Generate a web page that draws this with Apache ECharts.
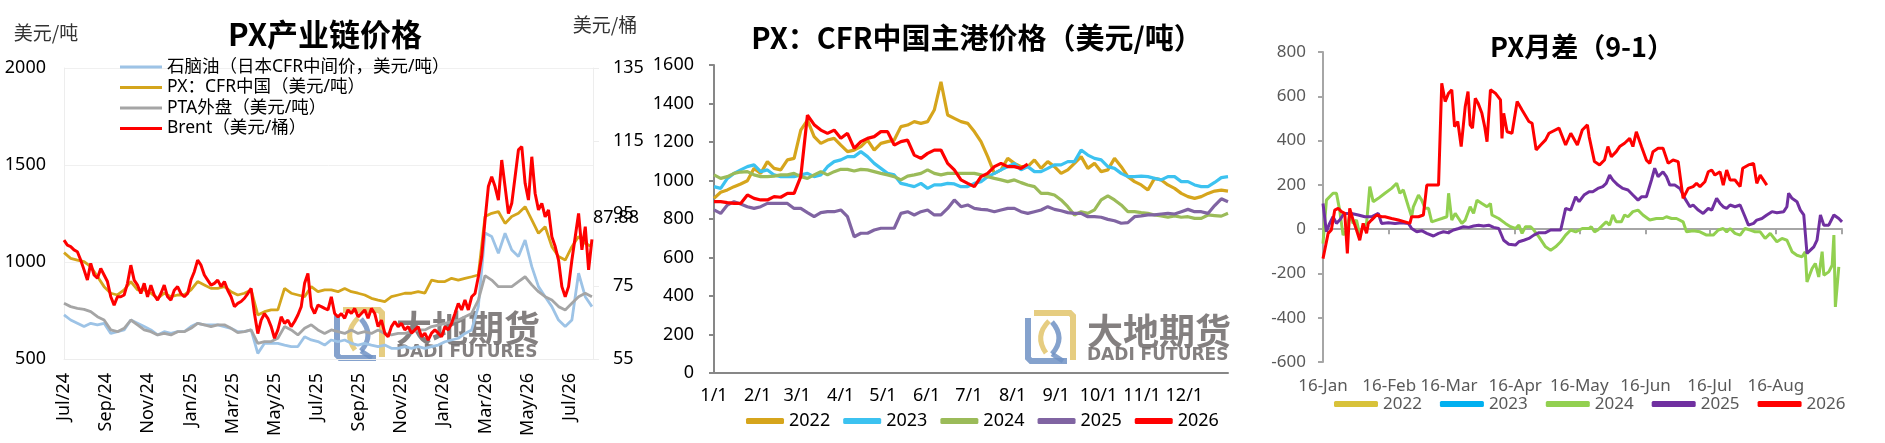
<!DOCTYPE html>
<html><head><meta charset="utf-8">
<script src="https://cdn.jsdelivr.net/npm/echarts@6/dist/echarts.min.js"></script>
<style>html,body{margin:0;padding:0;background:#fff}#c{width:1885px;height:443px}</style>
</head><body><div id="c"></div>
<script>
// ================= LEFT: PX产业链价格 =================
// samples are evenly spaced in time from LEFT_FIRST_MONTH to LEFT_LAST_MONTH (months after Jul-2024)
const LEFT_FIRST_MONTH = 0;
const LEFT_LAST_MONTH = 25.05;
const LEFT_MONTH_NAMES = ['Jan','Feb','Mar','Apr','May','Jun','Jul','Aug','Sep','Oct','Nov','Dec'];
const LEFT_START_MONTH_INDEX = 6;  // July
const LEFT_START_YEAR = 24;

const naphtha = [727,701,684,667,684,676,684,632,641,650,701,684,667,650,624,641,632,641,641,667,684,676,676,676,667,658,641,641,650,529,581,581,581,572,564,564,615,598,590,572,
598,589,598,581,572,581,572,564,572,555,555,564,555,564,555,564,572,589,598,607,632,650,770,1150,1131,1045,1148,1062,1028,1113,976,873,821,770,701,667,701,942,821,770];
const pxCfrChina = [1048,1019,1010,1002,976,925,873,839,830,856,899,856,856,839,813,839,821,830,830,856,899,882,864,864,873,847,830,839,856,727,744,753,753,864,839,830,821,873,847,856,
856,847,864,847,839,830,813,804,796,821,830,839,839,847,839,907,899,899,916,907,916,924,933,1234,1251,1260,1199,1234,1251,1285,1217,1148,1182,1079,1028,1010,1079,1131,1096,1079];
const ptaExport = [787,770,761,756,744,718,701,650,641,658,701,676,650,641,624,632,624,641,641,658,684,676,667,676,676,658,636,641,650,581,590,590,607,667,650,624,658,676,650,632,
650,641,632,650,632,641,632,650,632,624,632,632,641,650,650,667,675,684,693,701,718,735,804,930,907,873,873,873,899,924,882,847,821,804,770,753,787,821,839,821];
const brent = [87.7,86.3,85.9,85.0,84.5,82.2,79.5,76.7,81.3,78.1,77.2,79.9,78.1,76.3,72.1,69.8,72.1,72.1,72.6,75.8,
80.8,76.7,75.3,73.0,75.8,72.1,75.3,72.6,71.2,73.0,75.3,72.1,71.2,73.9,74.9,73.0,72.1,73.0,76.7,79.0,
82.2,80.8,78.1,76.7,75.3,75.8,76.7,74.9,76.3,73.9,72.1,69.4,70.3,70.8,71.7,73.0,74.4,67.5,62.0,65.7,
67.5,66.2,63.9,60.7,63.0,66.6,64.8,65.7,63.9,65.3,67.1,69.4,75.8,78.5,69.4,67.5,69.8,69.4,68.9,68.5,
72.1,67.5,66.6,67.5,66.2,68.5,67.5,68.9,66.6,67.5,68.5,66.2,68.9,67.5,63.9,65.7,62.1,61.1,63.9,65.3,
63.9,64.8,63.0,63.9,62.1,63.0,63.9,61.1,62.1,60.2,62.1,63.0,62.1,61.1,63.9,63.0,64.8,67.5,70.3,68.5,
71.2,68.5,72.1,73.0,77.6,83.1,93.2,102.4,105.1,102.4,98.7,109.7,102.4,95.0,97.8,105.1,112.5,113.4,103.3,98.7,
110.6,100.5,96.0,97.8,94.1,96.0,88.6,85.9,82.2,74.9,72.1,74.9,82.2,88.6,95.0,85.0,91.4,79.5,87.88];

// ================= MID: PX CFR 中国主港价格 =================
const MID_SAMPLE_COUNT = 78;      // samples evenly spread over the calendar year
const MID_YEAR_DAYS = 365;
const MID_MONTH_START_DAYS = [0,31,59,90,120,151,181,212,243,273,304,334];
const MID_MONTH_LABELS = ['1/1','2/1','3/1','4/1','5/1','6/1','7/1','8/1','9/1','10/1','11/1','12/1'];
const px2022 = [907,939,951,968,982,999,1063,1037,1098,1063,1055,1107,1115,1262,1314,1228,1193,1210,1219,1184,1150,1158,1176,1210,1158,1193,1202,1210,1280,1288,1306,1297,1306,1366,1513,1340,1323,
1306,1297,1254,1202,1124,1037,1055,1115,1089,1072,1072,1107,1063,1098,1072,1037,1055,1089,1124,1063,1089,1046,1055,1115,1072,1020,994,977,951,1011,1003,977,959,933,916,907,916,933,945,950,945];
const px2023 = [968,959,1011,1037,1055,1072,1081,1046,1055,1029,1020,1020,1020,1029,1037,1020,1029,1072,1098,1107,1124,1124,1150,1124,1089,1063,1037,1029,985,977,968,985,959,977,977,985,982,
968,968,985,994,1020,1037,1055,1072,1089,1055,1072,1046,1046,1063,1081,1081,1098,1098,1158,1132,1115,1107,1072,1063,1037,1020,1020,1023,1020,1011,1003,1020,1020,994,994,977,968,968,990,1015,1020];
const px2024 = [1029,1011,1020,1037,1044,1046,1029,1020,1020,1023,1029,1029,1037,1020,1011,1029,1046,1029,1046,1058,1058,1049,1058,1055,1046,1037,1029,1020,1003,1023,1029,1037,1055,1037,1029,1037,1037,
1037,1037,1037,1029,1020,1011,1003,994,1003,989,977,968,933,933,925,899,864,821,838,829,847,899,920,899,873,838,838,833,829,821,816,809,816,809,812,803,803,821,818,815,830];
const px2025 = [847,829,873,890,878,864,855,864,881,881,881,881,855,855,833,812,833,838,838,847,812,708,726,726,743,752,752,752,829,838,821,838,847,821,821,855,899,
864,873,855,850,847,838,847,855,855,838,829,838,847,864,850,843,833,829,829,812,812,809,798,791,778,781,812,816,821,821,826,829,826,838,850,838,838,829,870,905,890];
const px2026 = [890,890,885,881,881,925,907,899,899,916,913,933,933,1020,1340,1290,1262,1245,1262,1219,1245,1167,1202,1219,1228,1254,1254,1184,1202,1210,1132,1115,1141,1158,1158,1089,1055,
1003,985,968,1020,1037,1072,1089,1072,1072,1063,1085];

// ================= RIGHT: PX月差（9-1） =================
// x = days after 16-Jan
const SPREAD_TICK_DAYS = [0,31,59,90,120,151,181,212,243];
const SPREAD_TICK_LABELS = ['16-Jan','16-Feb','16-Mar','16-Apr','16-May','16-Jun','16-Jul','16-Aug'];
const spread2022Days = [], spread2022 = [];
const spread2023Days = [], spread2023 = [];
const spread2024Days = [0,1.6,3.1,4.7,6.3,7.8,9.4,11.0,12.5,14.1,15.7,17.2,18.8,20.4,21.9,23.5,25.9,29.0,32.1,34.5,
36.0,37.6,40.0,41.5,42.3,44.7,46.2,47.8,49.4,50.9,53.3,55.6,58.0,58.8,60.3,61.9,63.5,65.0,66.6,68.9,
70.5,72.1,74.4,76.8,78.4,79.1,82.3,85.4,87.8,90.1,91.7,93.2,94.8,97.2,98.7,101.1,104.2,106.6,108.9,111.3,
113.6,116.0,118.3,121.4,124.6,125.6,127.1,128.7,131.0,132.6,134.2,135.7,137.3,139.7,141.2,
142.8,145.1,147.5,149.8,153.0,156.1,159.2,160.8,163.2,165.5,168.6,170.2,173.3,176.5,179.6,182.7,185.1,187.4,189.0,190.6,
192.9,195.3,197.6,200.0,202.3,204.7,207.0,209.4,212.5,214.9,217.2,219.6,221.9,224.3,225.8,226.6,229.0,230.5,232.1,233.7,
234.5,236.8,238.4,239.2,239.9,241.5];
const spread2024 = [-65,131,146,162,162,86,-27,-4,64,26,41,-27,11,26,192,124,139,162,184,207,
162,177,101,56,101,154,131,94,94,33,41,48,56,162,41,71,48,26,41,101,
71,131,116,101,116,64,48,26,11,3,18,-19,11,11,-4,-35,-80,-95,-80,-57,
-27,-4,-12,3,3,11,-12,-4,18,33,18,64,33,33,64,
56,79,86,64,41,48,48,56,48,48,33,-12,-7,-12,-27,-27,-4,3,-12,3,
-19,-27,3,-4,-12,-12,-42,-19,-57,-42,-50,-102,-118,-125,-102,-238,-178,-155,-216,-102,
-208,-193,-163,-27,-351,-170];
const spread2025Days = [0,1.6,3.1,4.7,6.3,7.8,9.4,11.0,13.3,16.5,19.6,22.7,25.9,27.4,30.6,33.7,36.8,40.0,41.5,43.9,
46.2,48.6,51.7,54.1,56.4,58.8,61.1,63.5,65.8,68.2,70.5,72.9,75.2,77.6,79.9,82.3,84.6,87.0,90.1,91.7,
94.0,96.4,98.7,101.1,104.2,106.6,108.9,111.3,113.6,116.0,118.3,119.9,122.2,124.6,
126.3,128.7,131.0,132.6,134.2,135.7,138.1,140.4,142.8,145.1,147.5,149.1,151.4,153.8,155.3,156.9,159.2,160.8,162.4,164.7,
167.1,169.4,171.8,173.3,175.7,178.0,180.4,182.0,184.3,185.9,187.4,189.0,190.6,192.9,195.3,197.6,199.2,201.6,203.1,205.5,
207.8,210.2,212.5,215.7,217.2,218.0,219.6,221.9,223.5,225.1,226.6,228.2,229.8,231.3,232.9,234.5,236.8,239.2,241.5,243];
const spread2025 = [116,-12,26,56,26,41,64,71,71,64,56,56,71,26,29,26,29,26,3,-12,
-7,-19,-31,-19,-12,-16,-4,3,11,8,14,18,14,18,8,3,-50,-68,-72,-57,
-50,-42,-27,-16,-16,-4,-4,-4,94,86,146,124,154,169,
169,184,192,207,244,222,199,184,177,154,131,146,146,222,275,237,259,237,199,199,
184,139,101,109,86,71,94,86,139,116,101,94,109,101,109,56,18,26,41,48,
64,79,74,79,101,162,139,124,86,64,-110,-95,-80,-50,64,18,18,64,48,33];
const spread2026Days = [0,0.8,2.4,3.9,5.5,7.1,8.6,10.2,11.4,12.5,14.1,15.7,17.2,18.8,20.4,21.2,22.7,25.1,27.4,29.0,
32.1,35.3,38.4,40.7,41.5,44.7,47.0,48.6,50.9,54.1,55.6,57.2,58.8,60.3,61.6,63.1,64.7,66.6,67.9,68.9,
70.0,71.3,72.6,74.4,75.7,76.8,78.4,80.7,83.1,83.8,84.6,86.2,88.5,90.9,93.2,96.4,97.9,99.8,101.9,104.2,
105.8,110.5,113.6,116.0,119.1,121.4,123.8,124.6,127.1,129.5,131.8,133.4,135.0,137.3,138.9,141.2,143.6,145.1,
146.7,149.1,151.4,153.0,154.5,156.9,159.2,161.6,163.9,166.3,168.6,171.0,173.3,174.9,176.5,178.8,180.4,182.0,183.5,185.9,
187.4,189.0,190.6,192.9,195.3,196.5,199.2,201.6,203.1,204.7,207.8];
const spread2026 = [-133,-95,-19,-4,86,94,79,71,-110,94,41,-4,-50,26,-19,26,41,64,56,56,
48,41,33,26,56,56,64,199,199,199,659,576,614,629,463,486,373,554,621,471,
456,591,569,523,463,395,629,614,584,410,523,440,433,576,538,486,478,358,380,403,
433,456,380,433,380,448,471,418,305,290,312,373,327,350,373,388,410,373,
440,373,312,297,350,365,365,297,312,305,139,184,192,207,192,214,259,267,244,259,
199,267,222,222,192,275,290,297,207,244,199];

// ================= helpers =================
const FONT = "'Noto Sans', 'Noto Sans CJK SC', sans-serif";
const CJK = "'Noto Sans CJK SC', 'Noto Sans', sans-serif";
const evenSpread = (vals, a, b, n) => vals.map((v, i) => [a + i * (b - a) / (n - 1), v]);
const zip = (xs, ys) => xs.map((x, i) => [x, ys[i]]);
const leftSeries = vals => evenSpread(vals, LEFT_FIRST_MONTH, LEFT_LAST_MONTH, vals.length);
const midSeries = vals => evenSpread(vals, 0, MID_YEAR_DAYS, MID_SAMPLE_COUNT);
const plain = v => String(v);

const MID_COLORS = ['#D6A51C', '#3CC2F0', '#9BBB59', '#8064A2', '#FF0000'];
const SPREAD_COLORS = ['#D8C23A', '#00B0F0', '#92D050', '#7030A0', '#FF0000'];
const YEARS = ['2022','2023','2024','2025','2026'];
const midData = [px2022, px2023, px2024, px2025, px2026];
const spreadData = [zip(spread2022Days, spread2022), zip(spread2023Days, spread2023), zip(spread2024Days, spread2024), zip(spread2025Days, spread2025), zip(spread2026Days, spread2026)];

function watermark(x, y) {
  const gold = { fill: null, stroke: '#E2C46B', lineWidth: 6, opacity: 0.85 };
  const blue = { fill: null, stroke: '#7092C4', lineWidth: 6, opacity: 0.85 };
  return {
    type: 'group', x: x, y: y, z: 100, silent: true,
    children: [
      { type: 'polyline', shape: { points: [[9,3],[45,3],[48,6],[48,50]] }, style: gold },
      { type: 'polyline', shape: { points: [[3,8],[3,48],[6,51],[42,51]] }, style: blue },
      { type: 'bezierCurve', shape: { x1: 24, y1: 11, cpx1: 9, cpy1: 26, x2: 21, y2: 43 }, style: Object.assign({}, gold, { lineWidth: 5 }) },
      { type: 'bezierCurve', shape: { x1: 27, y1: 12, cpx1: 41, cpy1: 28, x2: 27, y2: 44 }, style: Object.assign({}, blue, { lineWidth: 5 }) },
      { type: 'line', shape: { x1: 27, y1: 44, x2: 38, y2: 51 }, style: Object.assign({}, blue, { lineWidth: 5 }) },
      { type: 'text', x: 62, y: 21, style: { text: '大地期货', font: "bold 36px 'Noto Sans CJK SC'", fill: '#6E6A6A', opacity: 0.85, textAlign: 'left', textVerticalAlign: 'middle', verticalAlign: 'middle' } },
      { type: 'text', x: 62, y: 46, style: { text: 'DADI FUTURES', font: "bold 17px 'DejaVu Sans'", fill: '#6E6A6A', opacity: 0.85, textAlign: 'left', textVerticalAlign: 'middle', verticalAlign: 'middle' } }
    ]
  };
}
function label(text, x, y, size, bold, color) {
  return { type: 'text', x: x, y: y, z: 50, style: { text: text, font: (bold ? 'bold ' : '') + size + 'px ' + CJK, fill: color || '#000', textAlign: 'center', textVerticalAlign: 'middle', verticalAlign: 'middle' } };
}

const option = {
  animation: false,
  backgroundColor: '#fff',
  textStyle: { fontFamily: FONT },
  graphic: [
    label('PX产业链价格', 325, 34, 31, true),
    label('美元/吨', 46, 33, 19, false, '#333'),
    label('美元/桶', 605, 25, 19, false, '#333'),
    label('PX：CFR中国主港价格（美元/吨）', 977, 38, 29, true),
    label('PX月差（9-1）', 1582, 47, 27, true),
    watermark(334, 307),
    watermark(1025, 310)
  ],
  grid: [
    { left: 64, top: 68, width: 529, height: 291 },
    { left: 714, top: 65, width: 514, height: 308 },
    { left: 1323, top: 52, width: 519, height: 310 }
  ],
  legend: [
    { orient: 'vertical', left: 115, top: 52, itemWidth: 42, itemHeight: 3, itemGap: 0.5, icon: 'rect',
      textStyle: { fontSize: 17.5, color: '#000', fontFamily: FONT, lineHeight: 20 },
      data: ['石脑油（日本CFR中间价，美元/吨）', 'PX：CFR中国（美元/吨）', 'PTA外盘（美元/吨）', 'Brent（美元/桶）'] },
    { orient: 'horizontal', left: 741, top: 406, itemWidth: 38, itemHeight: 6, itemGap: 13, icon: 'roundRect',
      formatter: n => n.slice(1), textStyle: { fontSize: 18, color: '#000', fontFamily: FONT, lineHeight: 20 },
      data: YEARS.map(y => 'm' + y) },
    { orient: 'horizontal', left: 1329, top: 389, itemWidth: 44, itemHeight: 6, itemGap: 18, icon: 'roundRect',
      formatter: n => n.slice(1), textStyle: { fontSize: 17, color: '#595959', fontFamily: FONT, lineHeight: 20 },
      data: YEARS.map(y => 's' + y) }
  ],
  xAxis: [
    { gridIndex: 0, type: 'value', min: 0, max: 25.1, interval: 2,
      axisLine: { show: true, lineStyle: { color: '#EDEDED', width: 1 } }, axisTick: { show: false }, splitLine: { show: false },
      axisLabel: { rotate: 90, margin: 14, fontSize: 18, color: '#000', fontFamily: FONT, showMaxLabel: false,
        formatter: v => { if (Math.abs(v - Math.round(v)) > 1e-6) return ''; const k = LEFT_START_MONTH_INDEX + Math.round(v); return LEFT_MONTH_NAMES[k % 12] + '/' + (LEFT_START_YEAR + Math.floor(k / 12)); } } },
    { gridIndex: 1, type: 'value', min: 0, max: MID_YEAR_DAYS,
      axisLine: { show: true, lineStyle: { color: '#878787', width: 2 } }, axisTick: { show: false }, splitLine: { show: false },
      axisLabel: { customValues: MID_MONTH_START_DAYS, margin: 14, fontSize: 18, color: '#000', fontFamily: FONT,
        formatter: v => { const i = MID_MONTH_START_DAYS.indexOf(v); return i >= 0 ? MID_MONTH_LABELS[i] : ''; } } },
    { gridIndex: 2, type: 'value', min: 0, max: 243,
      axisLine: { show: true, onZero: true, lineStyle: { color: '#A6A6A6', width: 2 } },
      axisTick: { show: true, customValues: SPREAD_TICK_DAYS.slice(1), length: 5, inside: false, lineStyle: { color: '#A6A6A6', width: 2 } },
      splitLine: { show: false }, axisLabel: { show: false } },
    { gridIndex: 2, type: 'value', min: 0, max: 243, position: 'bottom',
      axisLine: { show: false, onZero: false }, axisTick: { show: false }, splitLine: { show: false },
      axisLabel: { customValues: SPREAD_TICK_DAYS.slice(0, 8), margin: 16, fontSize: 17, color: '#595959', fontFamily: FONT,
        formatter: v => { const i = SPREAD_TICK_DAYS.indexOf(v); return i >= 0 && i < SPREAD_TICK_LABELS.length ? SPREAD_TICK_LABELS[i] : ''; } } }
  ],
  yAxis: [
    { gridIndex: 0, type: 'value', min: 500, max: 2000, interval: 500, position: 'left',
      axisLine: { show: true, onZero: false, lineStyle: { color: '#EDEDED' } }, axisTick: { show: false },
      splitLine: { show: true, lineStyle: { color: '#F0F0F0' } },
      axisLabel: { margin: 18, fontSize: 18, color: '#000', fontFamily: FONT, formatter: plain } },
    { gridIndex: 0, type: 'value', min: 55, max: 135, interval: 20, position: 'right',
      axisLine: { show: true, onZero: false, lineStyle: { color: '#EDEDED' } },
      axisTick: { show: true, length: 6, lineStyle: { color: '#EDEDED' } }, splitLine: { show: false },
      axisLabel: { margin: 20, fontSize: 18, color: '#000', fontFamily: FONT, formatter: plain } },
    { gridIndex: 1, type: 'value', min: 0, max: 1600, interval: 200,
      axisLine: { show: true, onZero: false, lineStyle: { color: '#878787', width: 2 } },
      axisTick: { show: true, length: 5, lineStyle: { color: '#878787', width: 2 } }, splitLine: { show: false },
      axisLabel: { margin: 20, fontSize: 18, color: '#000', fontFamily: FONT, formatter: plain } },
    { gridIndex: 2, type: 'value', min: -600, max: 800, interval: 200,
      axisLine: { show: true, onZero: false, lineStyle: { color: '#A6A6A6', width: 2 } },
      axisTick: { show: true, length: 5, lineStyle: { color: '#A6A6A6', width: 2 } }, splitLine: { show: false },
      axisLabel: { margin: 17, fontSize: 17, color: '#595959', fontFamily: FONT, formatter: plain } }
  ],
  series: [
    { name: '石脑油（日本CFR中间价，美元/吨）', type: 'line', xAxisIndex: 0, yAxisIndex: 0, showSymbol: false, symbol: 'none',
      color: '#9DC3E6', lineStyle: { width: 2.8, color: '#9DC3E6' }, data: leftSeries(naphtha) },
    { name: 'PX：CFR中国（美元/吨）', type: 'line', xAxisIndex: 0, yAxisIndex: 0, showSymbol: false, symbol: 'none',
      color: '#D4A51C', lineStyle: { width: 2.8, color: '#D4A51C' }, data: leftSeries(pxCfrChina) },
    { name: 'PTA外盘（美元/吨）', type: 'line', xAxisIndex: 0, yAxisIndex: 0, showSymbol: false, symbol: 'none',
      color: '#A5A5A5', lineStyle: { width: 2.8, color: '#A5A5A5' }, data: leftSeries(ptaExport) },
    { name: 'Brent（美元/桶）', type: 'line', xAxisIndex: 0, yAxisIndex: 1, showSymbol: false, symbol: 'none',
      color: '#FF0000', lineStyle: { width: 3, color: '#FF0000' }, data: leftSeries(brent),
      endLabel: { show: true, formatter: p => p.value[1].toFixed(2), fontSize: 18, color: '#000', fontFamily: FONT, distance: 1, offset: [0, -22] } }
  ].concat(YEARS.map((y, i) => ({
    name: 'm' + y, type: 'line', xAxisIndex: 1, yAxisIndex: 2, showSymbol: false, symbol: 'none',
    color: MID_COLORS[i], lineStyle: { width: 3.2, color: MID_COLORS[i] }, data: midSeries(midData[i])
  }))).concat(YEARS.map((y, i) => ({
    name: 's' + y, type: 'line', xAxisIndex: 2, yAxisIndex: 3, showSymbol: false, symbol: 'none',
    color: SPREAD_COLORS[i], lineStyle: { width: 3, color: SPREAD_COLORS[i] }, data: spreadData[i]
  })))
};

const chart = echarts.init(document.getElementById('c'));
chart.setOption(option);
</script>
</body></html>
